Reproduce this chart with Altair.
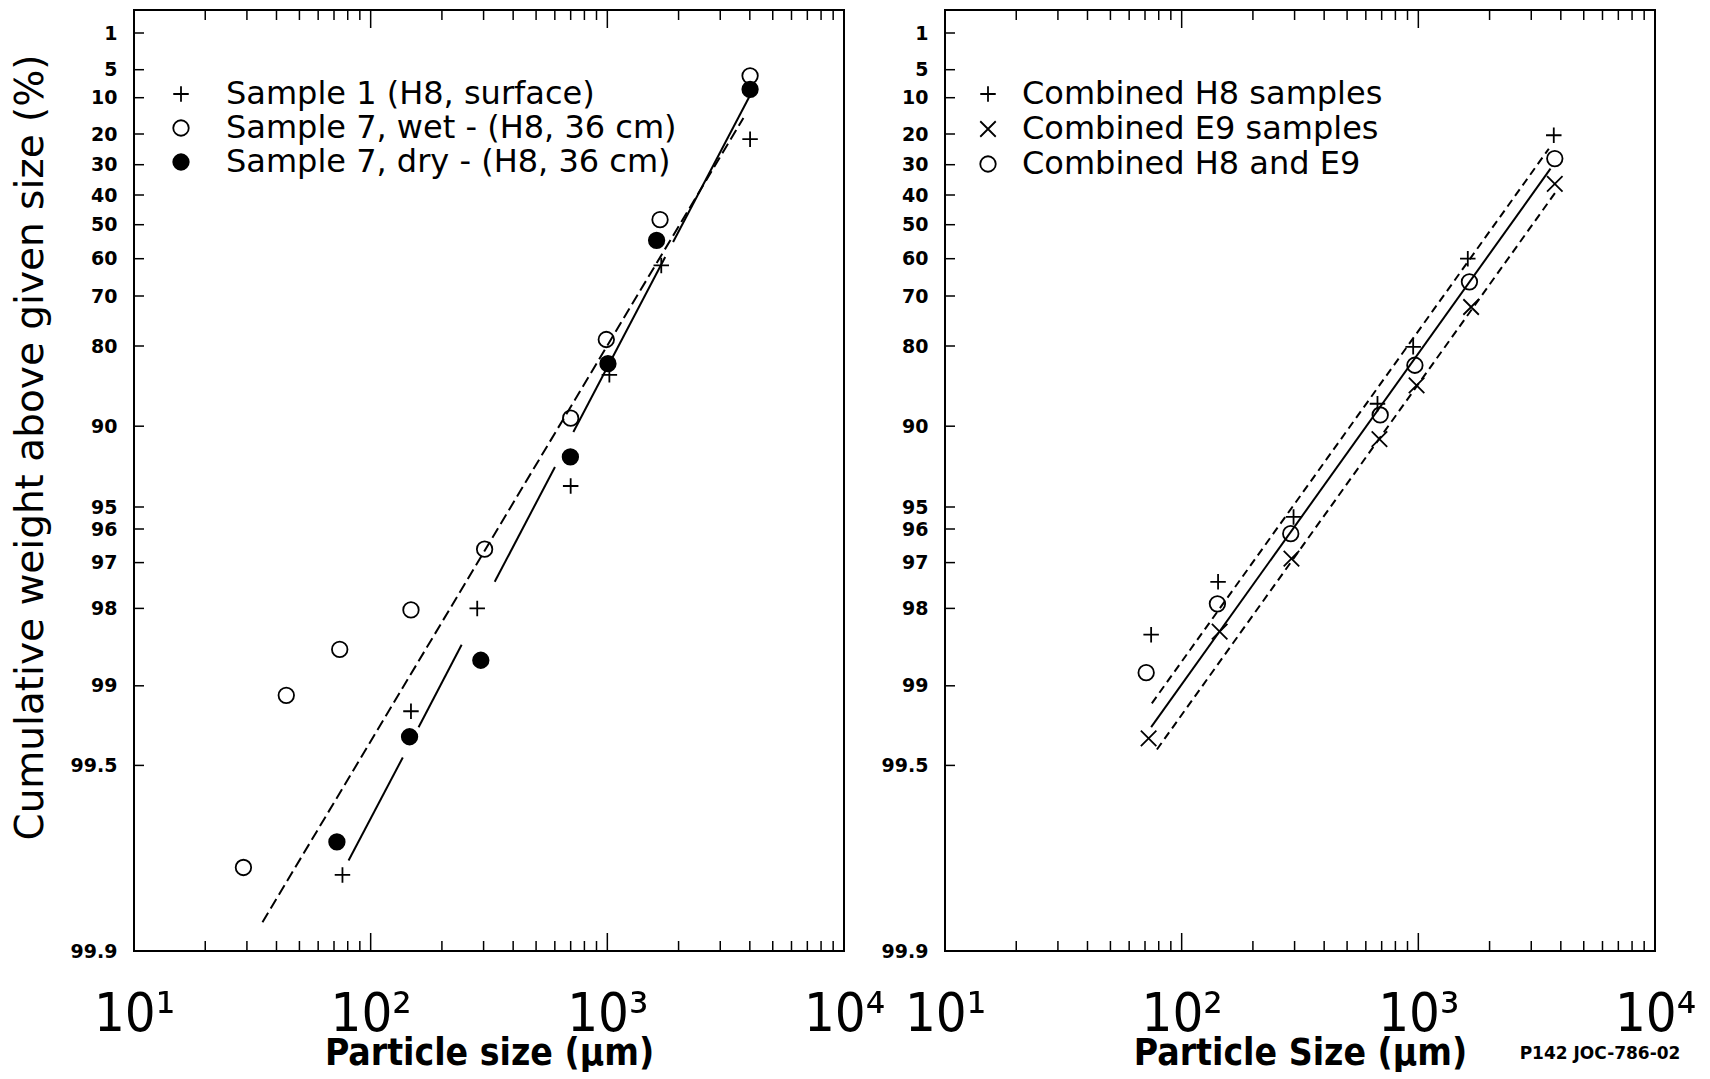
import altair as alt
import pandas as pd

# ---------------- values ----------------
# probability-paper axis: tick labels (cumulative weight above size, %)
Y_TICKS = [1, 5, 10, 20, 30, 40, 50, 60, 70, 80, 90, 95, 96, 97, 98, 99, 99.5, 99.9]
X_MAJOR = [10, 100, 1000, 10000]

# Left panel
S1_NAME = "Sample 1 (H8, surface)"
WET_NAME = "Sample 7, wet -  (H8, 36 cm)"
DRY_NAME = "Sample 7, dry - (H8, 36 cm)"
S1_SIZE = [4010, 1690, 1020, 700, 282, 148, 76]
S1_PCT = [21.7, 61.8, 83.6, 93.7, 98.0, 99.16, 99.736]
WET_SIZE = [4010, 1670, 990, 700, 303, 148, 74, 44, 29]
WET_PCT = [6.1, 48.3, 78.7, 89.0, 96.6, 98.02, 98.53, 99.06, 99.72]
DRY_SIZE = [4010, 1615, 1006, 698, 292, 146, 72]
DRY_PCT = [8.5, 54.6, 82.2, 91.9, 98.67, 99.32, 99.665]
WET_FIT_SIZE = [34.9, 3758]
WET_FIT_PCT = [99.838, 15.6]
DRY_FIT_SIZE = [[4011, 1896], [1756, 718.5], [600.8, 334.3], [242.3, 159.4], [136.7, 80.65]]
DRY_FIT_PCT = [[9.57, 55.1], [59.5, 90.36], [92.52, 97.42], [98.47, 99.26], [99.45, 99.705]]

# Right panel
H8_NAME = "Combined H8 samples"
E9_NAME = "Combined E9 samples"
ALL_NAME = "Combined H8 and E9"
H8_SIZE = [3735, 1618, 951, 672, 297, 142.5, 74.3]
H8_PCT = [20.4, 60.0, 80.1, 87.2, 95.45, 97.42, 98.34]
E9_SIZE = [3772, 1671, 983, 685, 291, 144.7, 72.5]
E9_PCT = [36.3, 72.2, 84.9, 90.8, 96.88, 98.30, 99.33]
ALL_SIZE = [3772, 1644, 967, 690, 289, 141.6, 70.8]
ALL_PCT = [28.0, 66.2, 82.4, 88.6, 96.14, 97.90, 98.83]
ALL_FIT_SIZE = [74.3, 3618]
ALL_FIT_PCT = [99.26, 31.3]
BAND_SIZE = [[74.8, 3559], [78.6, 3857]]
BAND_PCT = [[99.11, 24.8], [99.40, 38.4]]

FIG_ID = "P142 JOC-786-02"

# ---------------- layout / style ----------------
W, H = 710, 941
Y_DOMAIN = [0] + Y_TICKS
Y_RANGE = [0, 23, 59.7, 87.7, 124, 154.7, 185, 214.7, 248.7, 286, 336, 416.2,
           497, 519, 552.6, 598.4, 675.8, 755.4, H]
X_MINOR = [m * d for d in (10, 100, 1000) for m in range(2, 10)]
X_MID = [100, 1000]

PLUS = "M-1,0L1,0M0,-1L0,1"
CROSS = "M-1,-1L1,1M-1,1L1,-1"
CIRCLE = "circle"

NARROW = "Liberation Sans Narrow, DejaVu Sans Condensed, Liberation Sans, sans-serif"
XLABEL_EXPR = ("datum.value == 10 ? '10\u00b9' : datum.value == 100 ? '10\u00b2' : "
               "datum.value == 1000 ? '10\u00b3' : '10\u2074'")


def xenc(title):
    return alt.X(
        "size:Q",
        scale=alt.Scale(type="log", domain=[10, 10000], nice=False),
        axis=alt.Axis(values=X_MAJOR, labelExpr=XLABEL_EXPR, title=title, grid=False,
                      ticks=False, domain=False, labelFlush=False, labelFont=NARROW,
                      labelFontSize=54, labelPadding=36, labelColor="black",
                      titleFont=NARROW, titleFontSize=37, titleFontWeight="bold",
                      titleY=113, titleBaseline="alphabetic", titleColor="black"),
    )


def yenc(title):
    ax = dict(values=Y_TICKS, labelExpr="datum.value + ''", grid=False, ticks=False,
              domain=False, labelOverlap=False, labelFlush=False, labelFont="DejaVu Sans",
              labelFontWeight="bold", labelFontSize=19, labelPadding=17, labelColor="black")
    if title:
        ax.update(title=title, titleFont="DejaVu Sans", titleFontSize=39,
                  titleFontWeight="normal", titlePadding=20, titleY=437, titleColor="black")
    else:
        ax["title"] = None
    return alt.Y("p:Q", scale=alt.Scale(domain=Y_DOMAIN, range=Y_RANGE, nice=False, zero=False),
                 axis=alt.Axis(**ax))


def series_df(names, sizes, pcts):
    rows = []
    for n, s, p in zip(names, sizes, pcts):
        for a, b in zip(s, p):
            rows.append({"series": n, "size": a, "p": b})
    return pd.DataFrame(rows)


def seg_df(sizes, pcts):
    rows = []
    for i, (s, p) in enumerate(zip(sizes, pcts)):
        for a, b in zip(s, p):
            rows.append({"seg": i, "size": a, "p": b})
    return pd.DataFrame(rows)


def panel(xt, yt, names, sizes, pcts, shapes, fills, solid, dashed, dash, lx, ly, loff, rowpad,
          extra=None):
    X, Y = xenc(xt), yenc(yt)
    leg = alt.Legend(title=None, orient="none", legendX=lx, legendY=ly, labelFont="DejaVu Sans",
                     labelFontSize=32, labelColor="black", labelOffset=loff, rowPadding=rowpad,
                     symbolSize=240, symbolStrokeColor="black", symbolStrokeWidth=1.8,
                     symbolOpacity=1, labelLimit=1000)
    pts = alt.Chart(series_df(names, sizes, pcts)).mark_point(
        strokeWidth=1.8, opacity=1, size=240
    ).encode(
        x=X, y=Y,
        shape=alt.Shape("series:N", scale=alt.Scale(domain=names, range=shapes), legend=leg),
        fill=alt.Fill("series:N", scale=alt.Scale(domain=names, range=fills), legend=leg),
        stroke=alt.Stroke("series:N", scale=alt.Scale(domain=names, range=["black"] * len(names)),
                          legend=leg),
    )
    solid_l = alt.Chart(seg_df(*solid)).mark_line(color="black", strokeWidth=2).encode(
        x=X, y=Y, detail="seg:N")
    dashed_l = alt.Chart(seg_df(*dashed)).mark_line(
        color="black", strokeWidth=2, strokeDash=dash).encode(x=X, y=Y, detail="seg:N")
    yt_df = pd.DataFrame({"p": Y_TICKS[:-1]})
    yticks = alt.Chart(yt_df).mark_rule(color="black", strokeWidth=1.5).encode(
        y=Y, x=alt.value(0), x2=alt.value(10))
    minor = pd.DataFrame({"size": X_MINOR})
    mid = pd.DataFrame({"size": X_MID})
    xb1 = alt.Chart(minor).mark_rule(color="black", strokeWidth=1.5).encode(
        x=X, y=alt.value(H), y2=alt.value(H - 10))
    xb2 = alt.Chart(mid).mark_rule(color="black", strokeWidth=1.5).encode(
        x=X, y=alt.value(H), y2=alt.value(H - 18))
    xt1 = alt.Chart(minor).mark_rule(color="black", strokeWidth=1.5).encode(
        x=X, y=alt.value(0), y2=alt.value(10))
    xt2 = alt.Chart(mid).mark_rule(color="black", strokeWidth=1.5).encode(
        x=X, y=alt.value(0), y2=alt.value(18))
    layers = [solid_l, dashed_l, pts, yticks, xb1, xb2, xt1, xt2]
    if extra is not None:
        layers.append(extra)
    return alt.layer(*layers).properties(width=W, height=H)


left = panel(
    "Particle size (\u03bcm)", "Cumulative weight above given size (%)",
    [S1_NAME, WET_NAME, DRY_NAME], [S1_SIZE, WET_SIZE, DRY_SIZE], [S1_PCT, WET_PCT, DRY_PCT],
    [PLUS, CIRCLE, CIRCLE], ["transparent", "transparent", "black"],
    (DRY_FIT_SIZE, DRY_FIT_PCT), ([WET_FIT_SIZE], [WET_FIT_PCT]), [11, 5],
    31, 68, 29, 2,
)

fig_id = alt.Chart(pd.DataFrame({"t": [FIG_ID]})).mark_text(
    font="DejaVu Sans", fontWeight="bold", fontSize=17, color="black"
).encode(text="t:N", x=alt.value(655), y=alt.value(1044))

right = panel(
    "Particle Size (\u03bcm)", None,
    [H8_NAME, E9_NAME, ALL_NAME], [H8_SIZE, E9_SIZE, ALL_SIZE], [H8_PCT, E9_PCT, ALL_PCT],
    [PLUS, CROSS, CIRCLE], ["transparent", "transparent", "transparent"],
    ([ALL_FIT_SIZE], [ALL_FIT_PCT]), (BAND_SIZE, BAND_PCT), [8, 5],
    27, 68, 18, 3, extra=fig_id,
)

chart = alt.hconcat(left, right, spacing=101, bounds="flush").resolve_scale(
    shape="independent", fill="independent", stroke="independent"
).properties(
    padding={"left": 2, "top": 0, "right": 5, "bottom": 0}, background="white"
).configure_view(stroke="black", strokeWidth=2)

chart.save("out.html", embed_options={"renderer": "svg", "actions": False})
